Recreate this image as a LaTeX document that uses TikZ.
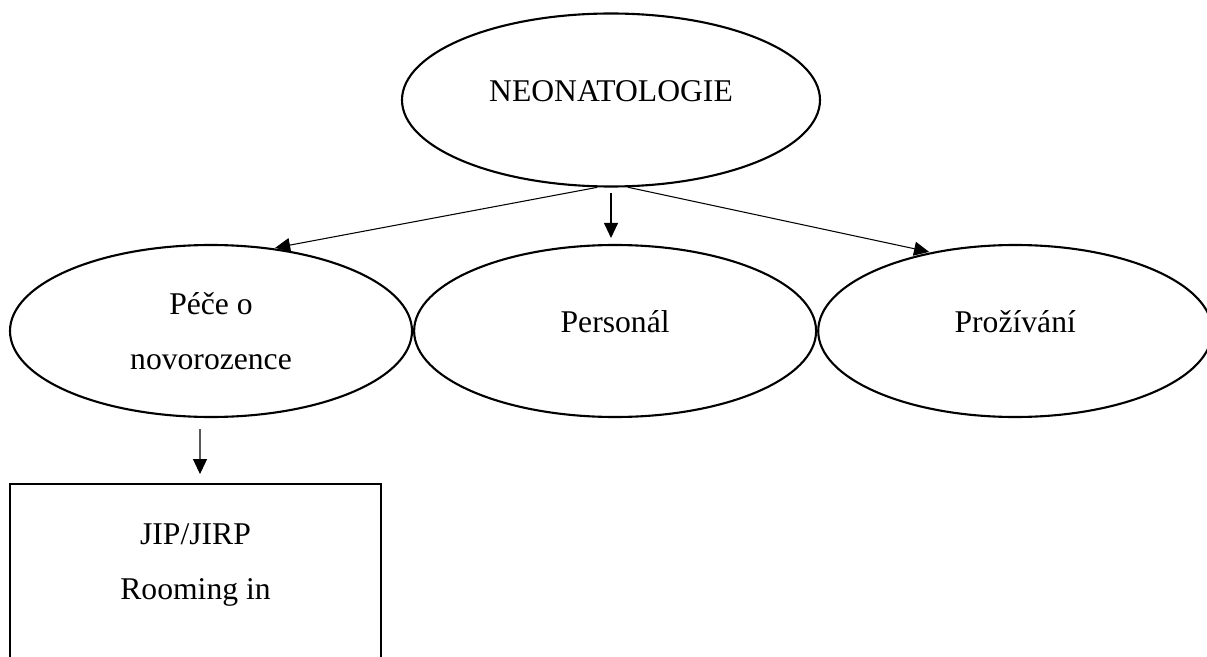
\documentclass[tikz,border=0pt]{standalone}
\usepackage{fontspec}
\setmainfont{Liberation Serif}
\usetikzlibrary{positioning, arrows.meta, shapes.geometric}
\tikzset{%
  topic/.style={ellipse, draw, line width=1.2pt, inner sep=0pt,
    minimum width=8.04cm, minimum height=3.44cm, align=center,
    font=\fontsize{18}{31}\selectfont},
  single/.style={text height=0.7em, text depth=0.54em}, % lifts one-line labels a little
  leaf/.style={rectangle, draw, line width=1.2pt, minimum width=7.42cm,
    inner ysep=0.8cm, align=center, font=\fontsize{18}{31}\selectfont},
  link/.style={-{Triangle[length=0.3cm, width=0.28cm]}, line width=0.6pt}
}

\begin{document}
\begin{tikzpicture}
    \useasboundingbox (0,0) rectangle (24.14,-13.14);
    \clip (0,0) rectangle (24.14,-13.14);

    \node[topic, single, minimum width=8.36cm, minimum height=3.46cm] (root) at (12.22,-2.00) {NEONATOLOGIE};

    \node[topic] (pece) at (4.22,-6.62) {Péče o\\novorozence};
    \node[topic, single, right=0pt of pece] (personal) {Personál};
    \node[topic, single, minimum width=7.88cm, right=0pt of personal] (prozivani) {Prožívání};

    \node[leaf, below=1.3cm of pece, xshift=-0.31cm] (jip) {JIP/JIRP\\Rooming in\\\mbox{}};

    % arrows from the root
    \draw[link, shorten >=1pt] (root.261) -- (pece.53);
    \draw[link, shorten <=3pt, shorten >=0.12cm] (root.south) -- (root.south |- personal.north);
    \draw[link, shorten >=1pt] (root.281) -- (prozivani.137);

    % down to the box
    \draw[link, shorten <=0.22cm, shorten >=0.18cm] ([xshift=-0.22cm]pece.south) -- ([xshift=0.09cm]jip.north);
\end{tikzpicture}
\end{document}
